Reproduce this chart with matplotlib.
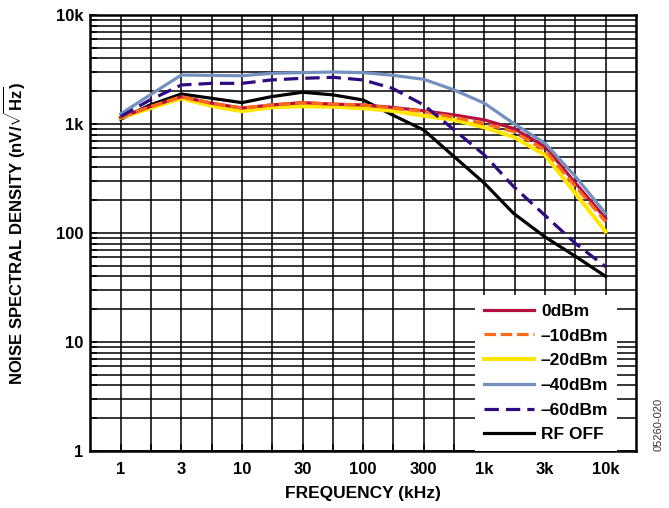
import numpy as np
import matplotlib
matplotlib.use("Agg")
import matplotlib.pyplot as plt

plt.rcParams['font.family'] = ['Liberation Sans', 'DejaVu Sans']
plt.rcParams['font.weight'] = 'bold'
plt.rcParams['mathtext.fontset'] = 'custom'
plt.rcParams['mathtext.rm'] = 'Liberation Sans:bold'
plt.rcParams['mathtext.bf'] = 'Liberation Sans:bold'

# datos (frecuencia en kHz, densidad en nV/rtHz)
frecuencia = [1, 1.7, 3, 5.5, 10, 17, 30, 55, 100, 170, 300, 550,
              1000, 1700, 3000, 5500, 10000]

ruido_0dbm = [1150, 1440, 1780, 1550, 1400, 1494, 1570, 1520, 1494, 1420, 1320, 1210,
              1090, 910, 620, 286, 136]
ruido_10dbm = [1150, 1440, 1780, 1550, 1400, 1494, 1570, 1520, 1494, 1400, 1300, 1150,
               1010, 850, 575, 266, 127]
ruido_20dbm = [1140, 1393, 1720, 1460, 1310, 1420, 1455, 1440, 1393, 1320, 1190, 1090,
               930, 760, 520, 230, 103]
ruido_40dbm = [1236, 1845, 2815, 2790, 2770, 2915, 2960, 3000, 2960, 2800, 2570, 2050,
               1550, 1010, 665, 329, 151]
ruido_60dbm = [1170, 1660, 2280, 2360, 2360, 2535, 2625, 2680, 2535, 2125, 1494, 880,
               520, 266, 145, 80, 49]
ruido_rf_off = [1105, 1494, 1885, 1720, 1570, 1780, 1955, 1850, 1660, 1210, 880, 500,
                286, 151, 92, 61, 40]

ticks_x = [1, 3, 10, 30, 100, 300, 1000, 3000, 10000]
etiquetas_x = ['1', '3', '10', '30', '100', '300', '1k', '3k', '10k']
ticks_y = [1, 10, 100, 1000, 10000]
etiquetas_y = ['1', '10', '100', '1k', '10k']

# escala 1-3-10 con pasos iguales
L3 = np.log10(3)


def adelante(f):
    f = np.asarray(f, dtype=float)
    with np.errstate(divide='ignore', invalid='ignore'):
        d = np.log10(np.where(f > 0, f, 1e-12))
    n = np.floor(d)
    r = d - n
    pos = np.where(r < L3, r / L3, 1 + (r - L3) / (1 - L3))
    return 2 * n + pos


def atras(p):
    p = np.asarray(p, dtype=float)
    n = np.floor(p / 2)
    r = p - 2 * n
    d = np.where(r < 1, r * L3, L3 + (r - 1) * (1 - L3))
    return 10 ** (n + d)


fig = plt.figure(figsize=(6.69, 5.08), dpi=100)
ax = fig.add_axes([0.1351, 0.1122, 0.8155, 0.8583])
ax.set_xscale('function', functions=(adelante, atras))
ax.set_yscale('log')

lw = 2.3
ax.plot(frecuencia, ruido_rf_off, color='black', lw=lw, label='RF OFF', zorder=3)
ax.plot(frecuencia, ruido_20dbm, color='#FFE500', lw=lw + 0.6, label='–20dBm', zorder=4)
ax.plot(frecuencia, ruido_0dbm, color='#B3123F', lw=lw, label='0dBm', zorder=5)
ax.plot(frecuencia, ruido_10dbm, color='#FF6A1A', lw=lw, ls=(0, (3.6, 1.5)),
        label='–10dBm', zorder=6)
ax.plot(frecuencia, ruido_40dbm, color='#7390BF', lw=lw, label='–40dBm', zorder=7)
ax.plot(frecuencia, ruido_60dbm, color='#2E0B80', lw=lw, ls=(0, (4.5, 2.2)),
        label='–60dBm', zorder=8)

ax.set_xlim(atras(-0.5), atras(8.5))
ax.set_ylim(1, 10000)

ax.set_xticks(ticks_x)
ax.set_xticklabels(etiquetas_x)
ax.set_xticks(atras(np.arange(0.5, 8, 1)), minor=True)
ax.set_yticks(ticks_y)
ax.set_yticklabels(etiquetas_y)

ax.grid(which='both', color='black', lw=1.1)
ax.set_axisbelow(True)
ax.tick_params(axis='both', which='both', direction='in', length=5, width=1.1,
               labelsize=12)
ax.tick_params(axis='x', pad=8)
ax.tick_params(axis='y', pad=5)
for s in ax.spines.values():
    s.set_linewidth(1.8)

ax.set_xlabel('FREQUENCY (kHz)', fontsize=12.5, fontweight='bold')
ax.set_ylabel(r'NOISE SPECTRAL DENSITY (nV/$\sqrt{\mathrm{Hz}}$)', fontsize=12,
              fontweight='bold')
ax.yaxis.set_label_coords(-0.117, 0.5)
ax.xaxis.set_label_coords(0.5, -0.08)

# orden de la leyenda como en el original
h, l = ax.get_legend_handles_labels()
orden = ['0dBm', '–10dBm', '–20dBm', '–40dBm', '–60dBm', 'RF OFF']
h = [h[l.index(o)] for o in orden]
leg = ax.legend(h, orden, loc='lower left', bbox_to_anchor=(0.705, 0.0),
                fontsize=12.5, frameon=True, fancybox=False, framealpha=1,
                edgecolor='none', handlelength=2.9, handletextpad=0.4,
                labelspacing=0.55, borderpad=0.5, borderaxespad=0)
leg.set_zorder(10)

fig.text(0.984, 0.165, '05260-020', rotation=90, fontsize=8, fontweight='normal',
         color='#333333', ha='center', va='center')

fig.savefig('out.png', dpi=100)
